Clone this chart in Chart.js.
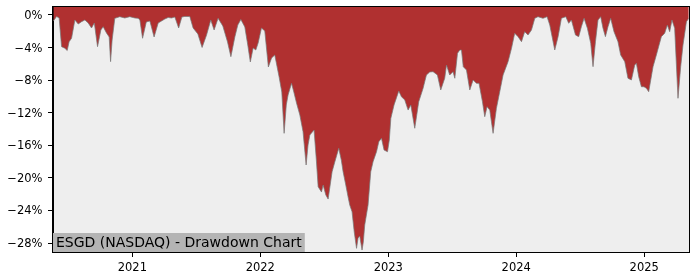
<!DOCTYPE html>
<html>
<head>
<meta charset="utf-8">
<script src="https://cdn.jsdelivr.net/npm/chart.js@4.4.1/dist/chart.umd.min.js"></script>
<style>
  html, body { margin: 0; padding: 0; background: #fff; }
  #wrap { width: 700px; height: 280px; }
</style>
</head>
<body>
<div id="wrap"><canvas id="ddChart" width="700" height="280"></canvas></div>
<script>
// date as decimal year, drawdown in %
const dates = [
  2020.383, 2020.408, 2020.428, 2020.447, 2020.473, 2020.491, 2020.506, 2020.525, 2020.551, 2020.577,
  2020.603, 2020.629, 2020.655, 2020.681, 2020.703, 2020.728, 2020.754, 2020.772, 2020.798, 2020.819,
  2020.830, 2020.842, 2020.863, 2020.902, 2020.941, 2020.980, 2021.020, 2021.045, 2021.059, 2021.080,
  2021.109, 2021.137, 2021.170, 2021.202, 2021.228, 2021.254, 2021.280, 2021.306, 2021.332, 2021.362,
  2021.387, 2021.410, 2021.449, 2021.475, 2021.512, 2021.545, 2021.580, 2021.613, 2021.639, 2021.670,
  2021.707, 2021.744, 2021.770, 2021.801, 2021.824, 2021.848, 2021.879, 2021.902, 2021.922, 2021.944,
  2021.965, 2021.983, 2022.009, 2022.035, 2022.063, 2022.088, 2022.113, 2022.147, 2022.168, 2022.186,
  2022.203, 2022.217, 2022.244, 2022.262, 2022.283, 2022.309, 2022.334, 2022.358, 2022.373, 2022.387,
  2022.420, 2022.438, 2022.452, 2022.478, 2022.491, 2022.512, 2022.530, 2022.561, 2022.582, 2022.613,
  2022.633, 2022.647, 2022.668, 2022.686, 2022.699, 2022.717, 2022.734, 2022.752, 2022.764, 2022.777,
  2022.795, 2022.805, 2022.816, 2022.842, 2022.863, 2022.881, 2022.908, 2022.926, 2022.947, 2022.967,
  2022.994, 2023.008, 2023.020, 2023.045, 2023.082, 2023.103, 2023.129, 2023.155, 2023.176, 2023.207,
  2023.238, 2023.272, 2023.298, 2023.324, 2023.350, 2023.384, 2023.410, 2023.441, 2023.455, 2023.480,
  2023.506, 2023.520, 2023.541, 2023.559, 2023.572, 2023.586, 2023.611, 2023.637, 2023.663, 2023.689,
  2023.709, 2023.736, 2023.754, 2023.772, 2023.793, 2023.819, 2023.845, 2023.871, 2023.897, 2023.936,
  2023.963, 2023.988, 2024.014, 2024.041, 2024.066, 2024.092, 2024.119, 2024.145, 2024.170, 2024.209,
  2024.241, 2024.262, 2024.301, 2024.327, 2024.353, 2024.387, 2024.410, 2024.431, 2024.463, 2024.488,
  2024.509, 2024.530, 2024.556, 2024.582, 2024.600, 2024.619, 2024.639, 2024.660, 2024.678, 2024.697,
  2024.717, 2024.738, 2024.764, 2024.795, 2024.816, 2024.848, 2024.873, 2024.900, 2024.926, 2024.939,
  2024.957, 2024.978, 2024.998, 2025.017, 2025.035, 2025.051, 2025.069, 2025.095, 2025.134, 2025.160,
  2025.181, 2025.199, 2025.217, 2025.238, 2025.264, 2025.285, 2025.303, 2025.330, 2025.348
];

const drawdown = [
  -0.74, -0.18, -0.37, -3.89, -4.09, -4.36, -3.28, -2.86, -0.61, -1.11,
  -0.82, -0.61, -0.98, -1.60, -0.98, -3.89, -1.84, -1.44, -2.21, -2.70,
  -5.73, -3.07, -0.41, -0.21, -0.37, -0.21, -0.37, -0.41, -0.61, -2.86,
  -0.86, -0.74, -2.70, -0.98, -0.74, -0.49, -0.31, -0.37, -0.25, -1.60,
  -0.25, -0.18, -0.18, -1.60, -2.33, -3.99, -2.46, -0.61, -1.84, -0.41,
  -1.35, -3.32, -5.12, -2.70, -1.23, -0.55, -1.47, -3.68, -5.77, -4.05,
  -4.30, -3.44, -1.60, -1.96, -6.39, -5.28, -4.91, -7.61, -9.46, -14.53,
  -11.05, -9.82, -8.39, -9.46, -10.81, -12.28, -14.33, -18.42, -15.96, -14.74,
  -14.12, -17.81, -21.09, -21.74, -20.88, -22.10, -22.60, -19.24, -18.05, -16.37,
  -17.81, -19.24, -20.88, -22.35, -23.33, -24.16, -26.65, -28.65, -27.39, -27.14,
  -28.86, -27.88, -25.79, -23.33, -19.24, -18.02, -16.79, -15.56, -15.14, -16.58,
  -16.79, -15.35, -12.69, -11.05, -9.33, -10.03, -10.44, -11.67, -11.05, -13.91,
  -10.65, -9.00, -7.37, -7.00, -6.96, -7.37, -9.21, -7.77, -6.14, -7.37,
  -6.96, -7.77, -4.70, -4.30, -4.30, -6.35, -6.75, -9.21, -7.98, -8.39,
  -8.39, -10.65, -12.49, -11.26, -11.67, -14.53, -11.46, -9.42, -7.37, -5.73,
  -4.09, -2.25, -2.66, -3.28, -2.05, -2.46, -1.84, -0.41, -0.21, -0.41,
  -0.21, -1.23, -4.30, -2.66, -0.41, -0.21, -1.02, -0.61, -2.46, -2.66,
  -1.44, -0.41, -1.63, -3.48, -6.35, -3.28, -0.61, -0.21, -1.63, -2.66,
  -1.44, -0.41, -2.05, -3.28, -4.91, -5.73, -7.77, -7.98, -6.14, -5.93,
  -7.58, -8.81, -8.81, -9.00, -9.42, -7.98, -6.35, -4.91, -2.66, -2.25,
  -1.23, -2.05, -0.61, -1.63, -10.23, -6.35, -3.68, -0.82, -0.41
];

const yearTicks = [2021, 2022, 2023, 2024, 2025];
const pctTicks = [-28, -24, -20, -16, -12, -8, -4, 0];
const chartTitle = 'ESGD (NASDAQ) - Drawdown Chart';

const tickFont = { family: 'DejaVu Sans', size: 11.5 };

// fundal gri al zonei de desen + chenar negru
const frame = {
    id: 'frame',
    beforeDraw(chart) {
        const a = chart.chartArea;
        const ctx = chart.ctx;
        ctx.save();
        ctx.fillStyle = '#eeeeee';
        ctx.fillRect(a.left, a.top, a.right - a.left, a.bottom - a.top);
        ctx.restore();
    },
    afterDraw(chart) {
        const a = chart.chartArea;
        const ctx = chart.ctx;
        ctx.save();
        // eticheta din stanga jos
        ctx.font = '14px "DejaVu Sans"';
        const w = ctx.measureText(chartTitle).width;
        ctx.fillStyle = '#b4b4b4';
        ctx.fillRect(a.left, a.bottom - 19, w + 6, 19);
        ctx.fillStyle = '#000';
        ctx.textBaseline = 'middle';
        ctx.fillText(chartTitle, a.left + 3, a.bottom - 8.5);
        ctx.strokeStyle = '#000';
        ctx.lineWidth = 1;
        ctx.strokeRect(Math.round(a.left) - 0.5, Math.round(a.top) - 0.5,
            Math.round(a.right - a.left) + 1, Math.round(a.bottom - a.top) + 1);
        ctx.restore();
    }
};

new Chart(document.getElementById('ddChart'), {
    type: 'line',
    data: {
        datasets: [{
            data: dates.map((d, i) => ({ x: d, y: drawdown[i] })),
            borderColor: 'rgba(120, 120, 120, 0.9)',
            borderWidth: 0.8,
            backgroundColor: '#b03030',
            fill: 'end',
            tension: 0,
            pointRadius: 0
        }]
    },
    options: {
        responsive: false,
        animation: false,
        layout: { padding: { left: 0, right: 11, top: 7, bottom: 0 } },
        plugins: {
            legend: { display: false },
            tooltip: { enabled: false }
        },
        scales: {
            x: {
                type: 'linear',
                min: 2020.38,
                max: 2025.35,
                afterBuildTicks: s => { s.ticks = yearTicks.map(v => ({ value: v })); },
                afterFit: s => {
                    s.height = 28;
                    s.paddingLeft = 0;
                    s.paddingRight = 0;
                },
                grid: { drawOnChartArea: false, tickLength: 5, color: '#000' },
                border: { display: true, color: '#000' },
                ticks: {
                    color: '#000',
                    font: tickFont,
                    padding: 4,
                    maxRotation: 0,
                    callback: v => String(v)
                }
            },
            y: {
                min: -29.1,
                max: 0.98,
                afterBuildTicks: s => { s.ticks = pctTicks.map(v => ({ value: v })); },
                afterFit: s => {
                    s.width = 53;
                    s.paddingTop = 0;
                    s.paddingBottom = 0;
                },
                grid: { drawOnChartArea: false, tickLength: 5, color: '#000' },
                border: { display: true, color: '#000' },
                ticks: {
                    color: '#000',
                    font: tickFont,
                    padding: 5.5,
                    labelOffset: 1,
                    callback: v => (v < 0 ? '\u2212' : '') + Math.abs(v) + '%'
                }
            }
        }
    },
    plugins: [frame]
});
</script>
</body>
</html>
